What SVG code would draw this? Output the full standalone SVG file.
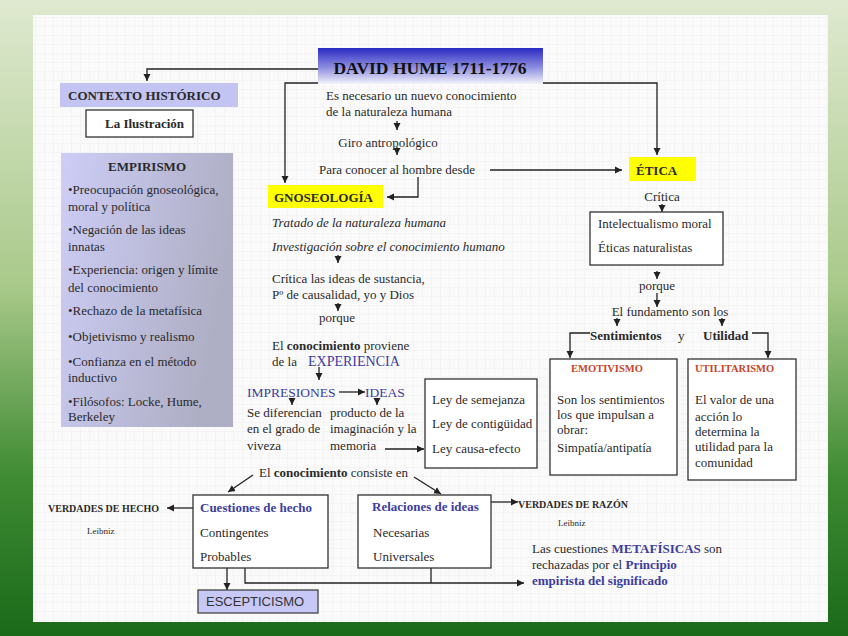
<svg xmlns="http://www.w3.org/2000/svg" width="848" height="636" viewBox="0 0 848 636">
<defs>
<linearGradient id="bg" x1="0" y1="0" x2="0" y2="1">
<stop offset="0" stop-color="#dfe9d0"/>
<stop offset="0.45" stop-color="#a9c98a"/>
<stop offset="0.75" stop-color="#3f8b33"/>
<stop offset="1" stop-color="#1a6a1a"/>
</linearGradient>
<linearGradient id="hume" x1="0" y1="0" x2="0" y2="1">
<stop offset="0" stop-color="#2a2ac4"/>
<stop offset="0.55" stop-color="#8f8fe0"/>
<stop offset="1" stop-color="#f2f2fb"/>
</linearGradient>
<linearGradient id="emp" x1="0" y1="0" x2="1" y2="0.3">
<stop offset="0" stop-color="#cdcdf7"/>
<stop offset="1" stop-color="#aeaec4"/>
</linearGradient>
<pattern id="grid" width="9" height="9" patternUnits="userSpaceOnUse">
<path d="M9,0 V9 M0,9 H9" fill="none" stroke="#efefef" stroke-width="1"/>
</pattern>
<marker id="ah" markerUnits="userSpaceOnUse" markerWidth="8" markerHeight="8" refX="7" refY="4" orient="auto">
<path d="M0,0.5 L7,4 L0,7.5 z" fill="#222"/>
</marker>
</defs>
<style>
text{font-family:"Liberation Serif","Times New Roman",serif;font-size:13px;fill:#2a2a2a}
.b{font-weight:bold}
.i{font-style:italic}
.blue{fill:#3d3d9e}
.red{fill:#c4452c;font-weight:bold;font-size:10.5px}
.small{font-size:10px;font-weight:bold}
.tiny{font-size:9px}
.box{fill:#fff;stroke:#333;stroke-width:1.3}
.con path{fill:none;stroke:#222;stroke-width:1.3}
.con path.a{marker-end:url(#ah)}
</style>
<rect x="0" y="0" width="848" height="636" fill="url(#bg)"/>
<rect x="33" y="15" width="795" height="607" fill="#fafafa"/>
<rect x="33" y="15" width="795" height="607" fill="url(#grid)"/>

<g id="connectors" class="con">
<path class="a" d="M318,69 H147 V81"/>
<path class="a" d="M318,83 H285 V183"/>
<path class="a" d="M543,83 H657 V155"/>
<path class="a" d="M397,121 V130"/>
<path class="a" d="M397,147 V155"/>
<path class="a" d="M490,170 H622"/>
<path class="a" d="M418,177 V197 H387"/>
<path class="a" d="M338,255 V263"/>
<path class="a" d="M338,303 V311"/>
<path class="a" d="M319,367 V380"/>
<path class="a" d="M339,392 H365"/>
<path class="a" d="M292,398 V405"/>
<path class="a" d="M377,398 V405"/>
<path class="a" d="M385,449 H424"/>
<path class="a" d="M253,475 L228,492"/>
<path class="a" d="M414,477 L441,494"/>
<path class="a" d="M193,508 H167"/>
<path class="a" d="M491,502 H518"/>
<path class="a" d="M227,568 V590"/>
<path class="a" d="M245,568 V583 H524"/>
<path d="M431,568 V583"/>
<path class="a" d="M662,204 V212"/>
<path class="a" d="M657,271 V279"/>
<path class="a" d="M657,293 V307"/>
<path class="a" d="M617,318 V326"/>
<path class="a" d="M722,318 V326"/>
<path class="a" d="M590,333 H570 V358"/>
<path class="a" d="M752,333 H768 V358"/>
</g>

<g id="hume-title">
<rect x="318" y="48" width="225" height="36" fill="url(#hume)"/>
<text x="430" y="74" text-anchor="middle" class="b" style="font-size:17.5px;fill:#111">DAVID HUME 1711-1776</text>
</g>

<g id="contexto">
<rect x="60" y="83" width="178" height="24" fill="#c4c4f2"/>
<text x="68" y="100" class="b">CONTEXTO HISTÓRICO</text>
</g>
<g id="ilustracion">
<rect x="86" y="110" width="107" height="27" class="box"/>
<text x="105" y="128" class="b">La Ilustración</text>
</g>

<g id="empirismo">
<rect x="61" y="153" width="172" height="274" fill="url(#emp)"/>
<text x="147" y="171" text-anchor="middle" class="b">EMPIRISMO</text>
<text x="68" y="194">•Preocupación gnoseológica,</text>
<text x="68" y="211">moral y política</text>
<text x="68" y="234">•Negación de las ideas</text>
<text x="68" y="251">innatas</text>
<text x="68" y="274">•Experiencia: origen y límite</text>
<text x="68" y="292">del conocimiento</text>
<text x="68" y="315">•Rechazo de la metafísica</text>
<text x="68" y="341">•Objetivismo y realismo</text>
<text x="68" y="366">•Confianza en el método</text>
<text x="68" y="382">inductivo</text>
<text x="68" y="406">•Filósofos: Locke, Hume,</text>
<text x="68" y="421">Berkeley</text>
</g>

<g id="intro">
<text x="326" y="100">Es necesario un nuevo conocimiento</text>
<text x="326" y="116">de la naturaleza humana</text>
<text x="388" y="147" text-anchor="middle">Giro antropológico</text>
<text x="319" y="174">Para conocer al hombre desde</text>
</g>

<g id="gnoseologia">
<rect x="268" y="185" width="115" height="23" fill="#ffff00"/>
<text x="274" y="202" class="b">GNOSEOLOGÍA</text>
</g>
<g id="gnoseologia-text">
<text x="272" y="227" class="i">Tratado de la naturaleza humana</text>
<text x="272" y="251" class="i">Investigación sobre el conocimiento humano</text>
<text x="272" y="283">Crítica las ideas de sustancia,</text>
<text x="272" y="299">Pº de causalidad, yo y Dios</text>
<text x="319" y="322">porque</text>
<text x="272" y="350">El <tspan class="b">conocimiento</tspan> proviene</text>
<text x="272" y="366">de la <tspan x="308" class="blue" style="font-size:14px">EXPERIENCIA</tspan></text>
</g>

<g id="impresiones">
<text x="247" y="397" class="blue" style="font-size:13.5px">IMPRESIONES</text>
<text x="247" y="417">Se diferencian</text>
<text x="247" y="433">en el grado de</text>
<text x="247" y="450">viveza</text>
</g>
<g id="ideas">
<text x="365" y="397" class="blue" style="font-size:13.5px">IDEAS</text>
<text x="330" y="417">producto de la</text>
<text x="330" y="433">imaginación y la</text>
<text x="330" y="450">memoria</text>
</g>
<g id="leyes">
<rect x="425" y="379" width="112" height="89" class="box"/>
<text x="432" y="404">Ley de semejanza</text>
<text x="432" y="428">Ley de contigüidad</text>
<text x="432" y="453">Ley causa-efecto</text>
</g>

<g id="consiste">
<text x="259" y="477">El <tspan class="b">conocimiento</tspan> consiste en</text>
</g>

<g id="cuestiones">
<rect x="193" y="495" width="135" height="73" class="box"/>
<text x="200" y="512" class="b blue">Cuestiones de hecho</text>
<text x="200" y="537">Contingentes</text>
<text x="200" y="561">Probables</text>
</g>
<g id="relaciones">
<rect x="358" y="495" width="133" height="73" class="box"/>
<text x="372" y="511" class="b blue">Relaciones de ideas</text>
<text x="373" y="537">Necesarias</text>
<text x="373" y="561">Universales</text>
</g>
<g id="verdades-hecho">
<text x="48" y="512" class="small">VERDADES DE HECHO</text>
<text x="87" y="534" class="tiny">Leibniz</text>
</g>
<g id="verdades-razon">
<text x="518" y="508" class="small">VERDADES DE RAZÓN</text>
<text x="558" y="526" class="tiny">Leibniz</text>
</g>
<g id="metafisicas">
<text x="532" y="553">Las cuestiones <tspan class="b blue">METAFÍSICAS</tspan> son</text>
<text x="532" y="569">rechazadas por el <tspan class="b blue">Principio</tspan></text>
<text x="532" y="585" class="b blue">empirista del significado</text>
</g>
<g id="escepticismo">
<rect x="198" y="590" width="120" height="23" fill="#c8c8f6" stroke="#444" stroke-width="1.3"/>
<text x="206" y="606" style="font-family:'Liberation Sans',Arial,sans-serif;fill:#333">ESCEPTICISMO</text>
</g>

<g id="etica">
<rect x="629" y="157" width="67" height="24" fill="#ffff00"/>
<text x="636" y="175" class="b">ÉTICA</text>
</g>
<g id="etica-critica">
<text x="662" y="201" text-anchor="middle">Crítica</text>
<rect x="590" y="212" width="133" height="53" class="box"/>
<text x="598" y="228">Intelectualismo moral</text>
<text x="598" y="252">Éticas naturalistas</text>
<text x="657" y="290" text-anchor="middle">porque</text>
<text x="670" y="316" text-anchor="middle">El fundamento son los</text>
<text x="590" y="340" class="b">Sentimientos</text>
<text x="678" y="340">y</text>
<text x="703" y="340" class="b">Utilidad</text>
</g>
<g id="emotivismo">
<rect x="550" y="359" width="127" height="116" class="box"/>
<text x="607" y="372" text-anchor="middle" class="red">EMOTIVISMO</text>
<text x="557" y="404">Son los sentimientos</text>
<text x="557" y="419">los que impulsan a</text>
<text x="557" y="434">obrar:</text>
<text x="557" y="452">Simpatía/antipatía</text>
</g>
<g id="utilitarismo">
<rect x="688" y="359" width="108" height="121" class="box"/>
<text x="695" y="372" class="red">UTILITARISMO</text>
<text x="695" y="404">El valor de una</text>
<text x="695" y="421">acción lo</text>
<text x="695" y="436">determina la</text>
<text x="695" y="451">utilidad para la</text>
<text x="695" y="467">comunidad</text>
</g>
</svg>
